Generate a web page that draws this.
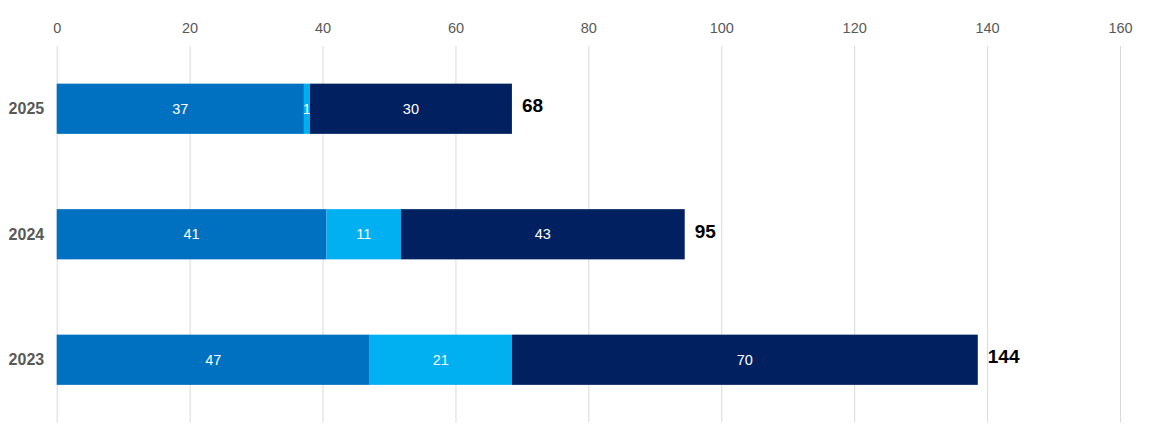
<!DOCTYPE html>
<html lang="en">
  <head>
    <meta charset="UTF-8" />
    <title>Stacked bars by year</title>
    <script src="https://d3js.org/d3.v7.min.js"></script>
    <style>
      body {
        margin: 0;
        background: #fff;
        font-family: "Liberation Sans", Arial, sans-serif;
      }
    </style>
  </head>
  <body>
    <script>
      // data
      const years = ["2025", "2024", "2023"];
      const partA = [37.2, 40.6, 47.1];
      const partB = [0.9, 11.2, 21.4];
      const partC = [30.4, 42.7, 70.1];
      const totals = [68, 95, 144];
      const xTicks = [0, 20, 40, 60, 80, 100, 120, 140, 160];
      const colors = ["#0070c0", "#00b0f0", "#002060"];

      const width = 1162,
        height = 435;
      const margin = { top: 46, right: 42, bottom: 12.5, left: 56.7 };

      const svg = d3
        .select("body")
        .append("svg")
        .attr("width", width)
        .attr("height", height);

      const x = d3
        .scaleLinear()
        .domain([0, 160])
        .range([margin.left, width - margin.right]);

      const y = d3
        .scaleBand()
        .domain(years)
        .range([margin.top, height - margin.bottom])
        .paddingInner(0.6)
        .paddingOuter(0.3);

      // gridlines + tick labels on top
      const axis = svg
        .append("g")
        .attr("transform", `translate(0,${margin.top})`)
        .call(
          d3
            .axisTop(x)
            .tickValues(xTicks)
            .tickSize(-(height - margin.bottom - margin.top))
            .tickPadding(0)
        );
      axis.select(".domain").remove();
      axis.selectAll(".tick line").attr("stroke", "#d9d9d9");
      axis
        .selectAll(".tick text")
        .attr("y", -13)
        .attr("fill", "#595959")
        .style("font-size", "14.5px")
        .style("font-family", "'Liberation Sans', Arial, sans-serif");

      const rows = years.map((yr, i) => ({
        year: yr,
        a: partA[i],
        b: partB[i],
        c: partC[i],
      }));
      const stack = d3.stack().keys(["a", "b", "c"])(rows);

      const layer = svg
        .selectAll("g.layer")
        .data(stack)
        .join("g")
        .attr("class", "layer")
        .attr("fill", (d, i) => colors[i]);

      layer
        .selectAll("rect")
        .data((d) => d)
        .join("rect")
        .attr("x", (d) => x(d[0]))
        .attr("y", (d) => y(d.data.year))
        .attr("width", (d) => x(d[1]) - x(d[0]))
        .attr("height", y.bandwidth());

      layer
        .selectAll("text")
        .data((d) => d)
        .join("text")
        .attr("x", (d) => (x(d[0]) + x(d[1])) / 2)
        .attr("y", (d) => y(d.data.year) + y.bandwidth() / 2)
        .attr("dy", "0.35em")
        .attr("text-anchor", "middle")
        .attr("fill", "#fff")
        .style("font-size", "14.5px")
        .text((d) => d3.format(".0f")(d[1] - d[0]));

      // year labels
      svg
        .selectAll("text.year")
        .data(years)
        .join("text")
        .attr("class", "year")
        .attr("x", margin.left - 12.5)
        .attr("y", (d) => y(d) + y.bandwidth() / 2)
        .attr("dy", "0.35em")
        .attr("text-anchor", "end")
        .attr("fill", "#595959")
        .style("font-size", "16px")
        .style("font-weight", "bold")
        .text((d) => d);

      // totals at the end of each bar
      const last = stack[stack.length - 1];
      svg
        .selectAll("text.total")
        .data(last)
        .join("text")
        .attr("class", "total")
        .attr("x", (d) => x(d[1]) + 10)
        .attr("y", (d) => y(d.data.year) + y.bandwidth() / 2 - 3)
        .attr("dy", "0.35em")
        .attr("fill", "#000")
        .style("font-size", "19px")
        .style("font-weight", "bold")
        .text((d, i) => totals[i]);
    </script>
  </body>
</html>
